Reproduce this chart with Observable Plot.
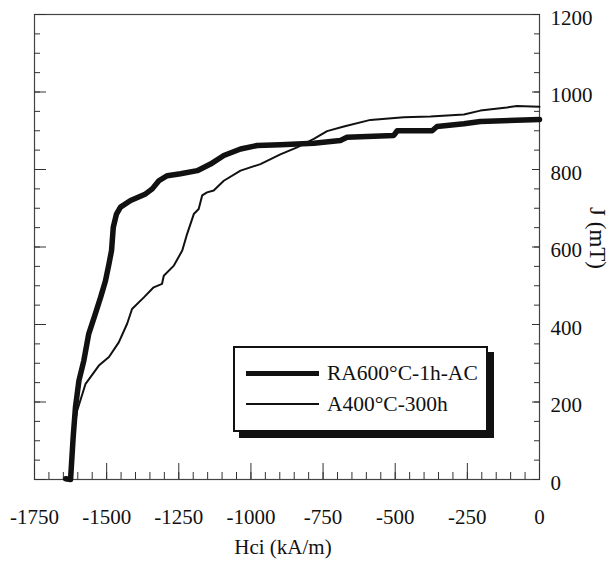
<!DOCTYPE html>
<html>
<head>
<meta charset="utf-8">
<script src="https://cdn.jsdelivr.net/npm/d3@7"></script>
<script src="https://cdn.jsdelivr.net/npm/@observablehq/plot@0.6"></script>
<style>
  html, body { margin: 0; padding: 0; background: #fff; }
  #wrap { position: relative; width: 611px; height: 563px; font-family: "Liberation Serif", "Times New Roman", serif; }
  #wrap svg text { font-family: "Liberation Serif", "Times New Roman", serif !important; }
  #legend { position: absolute; left: 233px; top: 346px; width: 251px; height: 82px; border: 2px solid #111; background: #fff; box-shadow: 6px 6px 0 #111; }
  .sw { position: absolute; left: 11px; width: 73px; background: #111; }
  .lt { position: absolute; left: 92px; font-size: 21.5px; color: #111; line-height: 20px; white-space: nowrap; font-family: "Liberation Serif", "Times New Roman", serif; }
</style>
</head>
<body>
<div id="wrap"></div>
<script>
// Series: RA600°C-1h-AC (thick)
const ra600H = [-1642, -1625, -1616, -1608, -1596, -1579, -1562, -1539, -1521, -1504, -1492, -1483, -1477, -1466, -1452, -1417, -1365, -1342, -1319, -1290, -1244, -1186, -1140, -1094, -1036, -978, -898, -782, -690, -667, -505, -493, -372, -355, -262, -205, 0];
const ra600J = [2, 0, 109, 187, 255, 307, 376, 428, 470, 513, 556, 591, 651, 685, 703, 720, 737, 750, 771, 784, 789, 797, 814, 836, 853, 862, 864, 868, 875, 883, 888, 900, 900, 911, 918, 924, 929];
// Series: A400°C-300h (thin)
const a400H = [-1625, -1614, -1602, -1573, -1527, -1492, -1458, -1429, -1412, -1371, -1337, -1308, -1302, -1267, -1238, -1221, -1198, -1181, -1169, -1152, -1129, -1094, -1036, -967, -898, -840, -782, -736, -678, -586, -470, -378, -262, -205, -113, -78, 0];
const a400J = [0, 126, 178, 247, 294, 316, 354, 402, 440, 470, 496, 505, 526, 552, 591, 634, 685, 698, 733, 741, 746, 771, 797, 814, 839, 857, 879, 899, 911, 928, 935, 937, 942, 952, 960, 964, 962];

const seriesNames = ["RA600°C-1h-AC", "A400°C-300h"];
const xTickLabels = [-1750, -1500, -1250, -1000, -750, -500, -250, 0];
const yTickLabels = [0, 200, 400, 600, 800, 1000, 1200];
const xMinor = d3.range(-1750, 1, 50);
const yMinor = d3.range(0, 1201, 50);
const xTitle = "Hci (kA/m)";
const yTitle = "J (mT)";

const thick = ra600H.map((h, i) => ({H: h, J: ra600J[i]}));
const thin = a400H.map((h, i) => ({H: h, J: a400J[i]}));

const ink = "#111";
const serif = "'Liberation Serif', 'Times New Roman', serif";

const chart = Plot.plot({
  width: 611,
  height: 563,
  marginTop: 14,
  marginBottom: 84,
  marginLeft: 34,
  marginRight: 72,
  style: {fontFamily: serif, fontSize: "21px", color: ink, background: "#fff"},
  x: {domain: [-1750, 0]},
  y: {domain: [0, 1200]},
  marks: [
    Plot.frame({stroke: "#444", strokeWidth: 1.2}),
    // inward ticks, bottom
    Plot.axisX({anchor: "bottom", ticks: xMinor, tickSize: -7, text: null, label: null, stroke: "#333"}),
    Plot.axisX({anchor: "bottom", ticks: xTickLabels, tickSize: -16, text: null, label: null, stroke: "#333"}),
    Plot.axisX({anchor: "bottom", ticks: xTickLabels, tickSize: 0, tickPadding: 30, tickFormat: d => String(d), label: null, fontSize: 21, fontFamily: serif}),
    // inward ticks, left
    Plot.axisY({anchor: "left", ticks: yMinor, tickSize: -6, text: null, label: null, stroke: "#333"}),
    Plot.axisY({anchor: "left", ticks: yTickLabels, tickSize: -12, text: null, label: null, stroke: "#333"}),
    // inward ticks, right
    Plot.axisY({anchor: "right", ticks: yMinor, tickSize: -6, text: null, label: null, stroke: "#333"}),
    Plot.axisY({anchor: "right", ticks: yTickLabels, tickSize: -8, text: null, label: null, stroke: "#333"}),
    Plot.axisY({anchor: "right", ticks: yTickLabels, tickSize: 0, tickPadding: 11, dy: 3.5, tickFormat: d => String(d), label: null, fontSize: 21, fontFamily: serif}),
    Plot.line(thin, {x: "H", y: "J", stroke: ink, strokeWidth: 2}),
    Plot.line(thick, {x: "H", y: "J", stroke: ink, strokeWidth: 5.5}),
    Plot.text([xTitle], {frameAnchor: "bottom", dx: -4, dy: 74, fontSize: 21, fontFamily: serif, fill: ink}),
    Plot.text([yTitle], {frameAnchor: "right", dx: 58, dy: 22, rotate: 90, fontSize: 23, fontFamily: serif, fill: ink})
  ]
});

const wrap = document.getElementById("wrap");
wrap.appendChild(chart);

const legend = document.createElement("div");
legend.id = "legend";
legend.innerHTML =
  `<div class="sw" style="top:23px;height:5px"></div>` +
  `<div class="lt" style="top:15px">${seriesNames[0]}</div>` +
  `<div class="sw" style="top:55px;height:2px"></div>` +
  `<div class="lt" style="top:46px">${seriesNames[1]}</div>`;
wrap.appendChild(legend);
</script>
</body>
</html>
